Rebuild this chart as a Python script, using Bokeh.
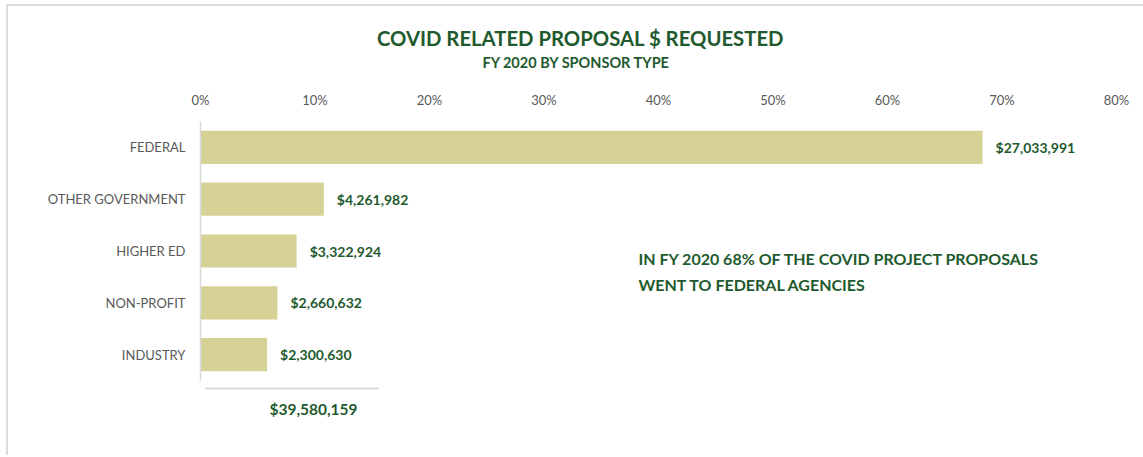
from bokeh.plotting import figure
from bokeh.layouts import column
from bokeh.models import (ColumnDataSource, FixedTicker, NumeralTickFormatter, Label,
                          BoxAnnotation, Range1d, FactorRange)
from bokeh.core.properties import value
from bokeh.embed import file_html
from bokeh.resources import INLINE

categories = ["FEDERAL", "OTHER GOVERNMENT", "HIGHER ED", "NON-PROFIT", "INDUSTRY"]
amounts = [27033991, 4261982, 3322924, 2660632, 2300630]
tick_values = [0, 0.1, 0.2, 0.3, 0.4, 0.5, 0.6, 0.7, 0.8]
title_text = "COVID RELATED PROPOSAL $ REQUESTED"
subtitle_text = "FY 2020 BY SPONSOR TYPE"
note_lines = ["IN FY 2020 68% OF THE COVID PROJECT PROPOSALS", "WENT TO FEDERAL AGENCIES"]

total = sum(amounts)
shares = [a / total for a in amounts]
labels = ["${:,}".format(a) for a in amounts]

BAR = "#D6D296"
GREEN = "#1F5A2E"
GRAY = "#595959"
RULE = "#D9D9D9"
FONT = "Lato"
W = 1135


def blank(height):
    f = figure(width=W, height=height, output_backend="svg", toolbar_location=None,
               x_range=Range1d(0, 1), y_range=Range1d(0, 1), min_border=0)
    f.axis.visible = False
    f.grid.grid_line_color = None
    f.outline_line_color = None
    return f


# --- title block ---
top = blank(74)
top.add_layout(Label(x=380, y=43, x_units="screen", y_units="screen", text=title_text,
                     text_align="center", text_baseline="middle", text_font=FONT,
                     text_font_style="bold", text_font_size="20.3px", text_color=GREEN))
top.add_layout(Label(x=376, y=18, x_units="screen", y_units="screen", text=subtitle_text,
                     text_align="center", text_baseline="middle", text_font=FONT,
                     text_font_style="bold", text_font_size="14.5px", text_color=GREEN))

# --- main chart ---
src = ColumnDataSource(dict(cat=categories, share=shares, label=labels))
p = figure(width=W, height=305, output_backend="svg", toolbar_location=None,
           y_range=FactorRange(*list(reversed(categories))), x_range=Range1d(0, 0.8),
           x_axis_location="above", min_border_left=192, min_border_right=27,
           min_border_top=41, min_border_bottom=5)
p.outline_line_color = None
p.grid.grid_line_color = None

p.hbar(y="cat", right="share", left=0, height=0.64, source=src, fill_color=BAR, line_color=None)
p.text(x="share", y="cat", text="label", source=src, x_offset=13, text_baseline="middle",
       text_align="left", text_font=value(FONT), text_font_style="bold", text_font_size="14px",
       text_color=GREEN)

xa = p.xaxis[0]
xa.ticker = FixedTicker(ticks=tick_values)
xa.formatter = NumeralTickFormatter(format="0%")
xa.axis_line_color = None
xa.major_tick_line_color = None
xa.minor_tick_line_color = None
xa.major_tick_out = 0
xa.major_label_standoff = 14
xa.major_label_text_font = FONT
xa.major_label_text_font_size = "13px"
xa.major_label_text_color = GRAY

ya = p.yaxis[0]
ya.axis_line_color = RULE
ya.axis_line_width = 1.5
ya.major_tick_line_color = None
ya.minor_tick_line_color = None
ya.major_tick_out = 0
ya.major_label_standoff = 15
ya.major_label_text_font = FONT
ya.major_label_text_font_size = "13px"
ya.major_label_text_color = GRAY

for i, line in enumerate(note_lines):
    p.add_layout(Label(x=438, y=122 - 26 * i, x_units="screen", y_units="screen", text=line,
                       text_align="left", text_baseline="middle", text_font=FONT,
                       text_font_style="bold", text_font_size="16px", text_color=GREEN))

# --- total block ---
bot = blank(70)
bot.add_layout(BoxAnnotation(left=5, right=178, top=68, bottom=66, left_units="screen",
                             right_units="screen", top_units="screen", bottom_units="screen",
                             fill_color=RULE, fill_alpha=1, line_color=None))
bot.add_layout(Label(x=113, y=47, x_units="screen", y_units="screen", text="${:,}".format(total),
                     text_align="center", text_baseline="middle", text_font=FONT,
                     text_font_style="bold", text_font_size="15.5px", text_color=GREEN))

layout = column(top, p, bot, spacing=0,
                styles={"margin-left": "6px", "margin-top": "4px",
                        "border-left": "2px solid #DCDCDC", "border-top": "2px solid #DCDCDC"})
open("out.html", "w").write(file_html(layout, INLINE))
